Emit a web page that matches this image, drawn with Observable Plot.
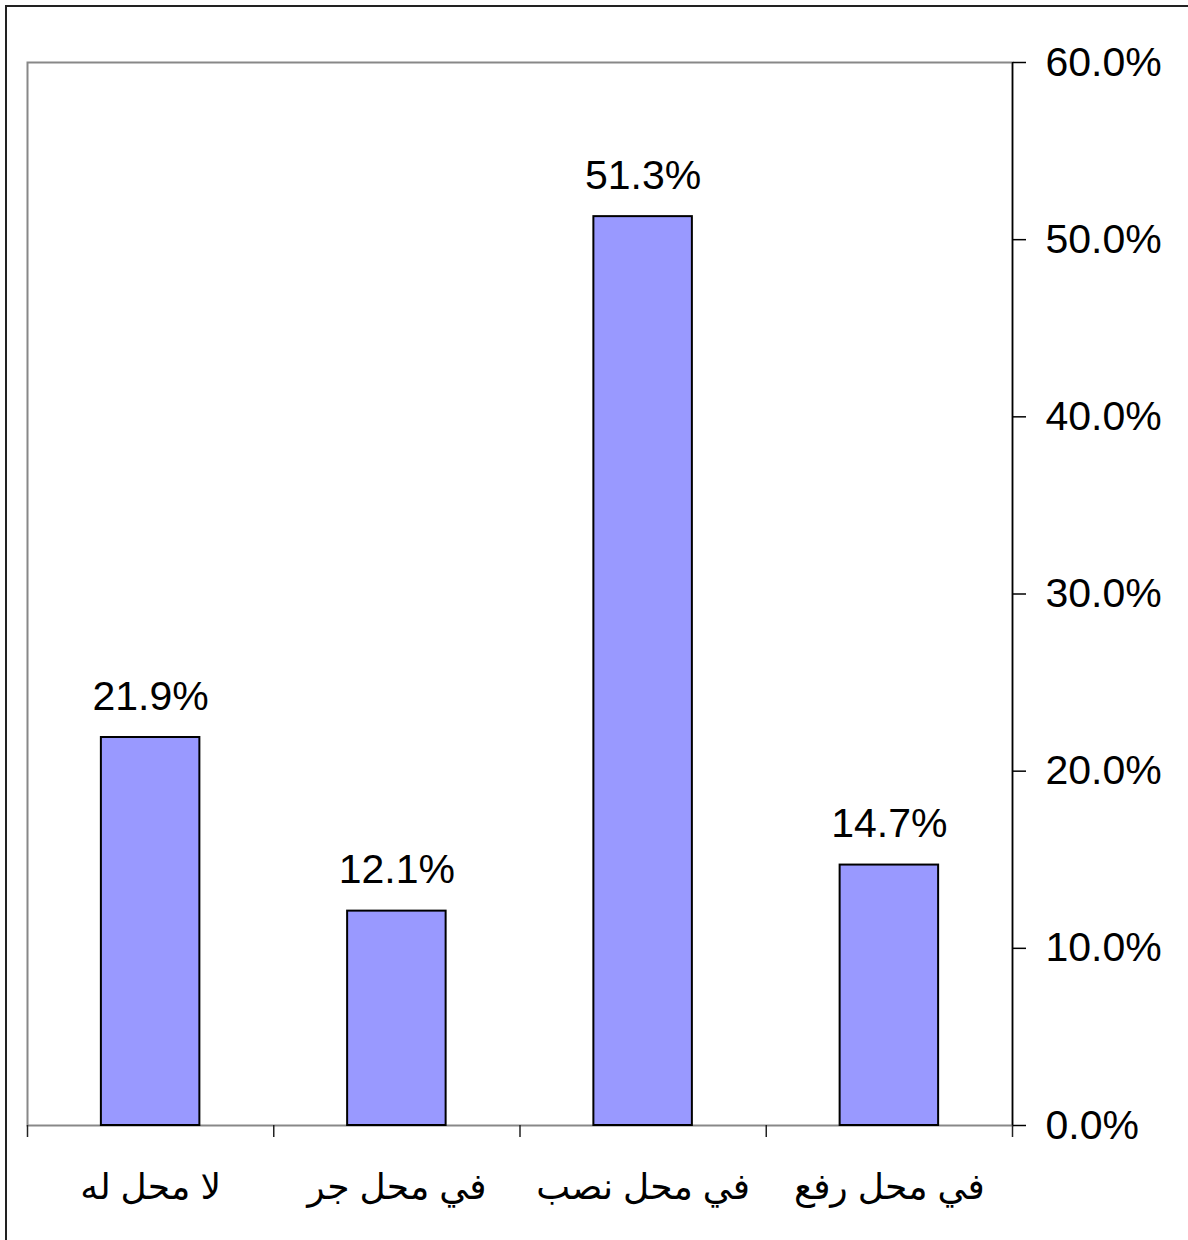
<!DOCTYPE html>
<html>
<head>
<meta charset="utf-8">
<script src="https://cdn.jsdelivr.net/npm/d3@7"></script>
<script src="https://cdn.jsdelivr.net/npm/@observablehq/plot@0.6"></script>
<style>
  html, body { margin: 0; padding: 0; background: white; }
  #wrap { position: relative; width: 1188px; height: 1240px; overflow: hidden; background: white; }
  #border { position: absolute; left: 5px; top: 5px; width: 1210px; height: 1270px; border: 2px solid #222; pointer-events: none; }
</style>
</head>
<body>
<div id="wrap"><div id="border"></div></div>
<script>
const categories = ["لا محل له", "في محل جر", "في محل نصب", "في محل رفع"];
const values = [21.9, 12.1, 51.3, 14.7];
const yTicks = [0, 10, 20, 30, 40, 50, 60];

const data = categories.map((c, i) => ({category: c, index: i, value: values[i]}));
const n = categories.length;
const fmt = d => d.toFixed(1) + "%";

const chart = Plot.plot({
  width: 1188,
  height: 1240,
  marginLeft: 27,
  marginRight: 176,
  marginTop: 62,
  marginBottom: 115,
  style: {fontFamily: "'Liberation Sans', Arial, 'DejaVu Sans', sans-serif", background: "transparent"},
  x: {type: "linear", domain: [0, n], axis: null},
  y: {domain: [0, 60], axis: null},
  marks: [
    Plot.frame({stroke: "#888", strokeWidth: 2}),
    Plot.rectY(data, {
      x1: d => d.index + 0.3,
      x2: d => d.index + 0.7,
      y: "value",
      fill: "#9999FF",
      stroke: "black",
      strokeWidth: 2
    }),
    Plot.text(data, {
      x: d => d.index + 0.5,
      y: "value",
      text: d => fmt(d.value),
      dy: -41,
      lineAnchor: "middle",
      fontSize: 41,
      fill: "black"
    }),
    Plot.ruleX(d3.range(n + 1), {y1: 0, y2: 0, insetBottom: -12, stroke: "#222", strokeWidth: 1.5}),
    Plot.ruleX([n], {stroke: "black", strokeWidth: 1.5}),
    Plot.axisY({
      anchor: "right",
      ticks: yTicks,
      tickFormat: fmt,
      tickSize: 13,
      tickPadding: 20,
      fontSize: 41,
      label: null,
      stroke: "black",
      strokeWidth: 1.5
    }),
    Plot.text(data, {
      x: d => d.index + 0.5,
      y: 0,
      text: "category",
      dy: 62,
      lineAnchor: "middle",
      fontSize: 36,
      fill: "black"
    })
  ]
});
document.getElementById("wrap").insertBefore(chart, document.getElementById("border"));
</script>
</body>
</html>
